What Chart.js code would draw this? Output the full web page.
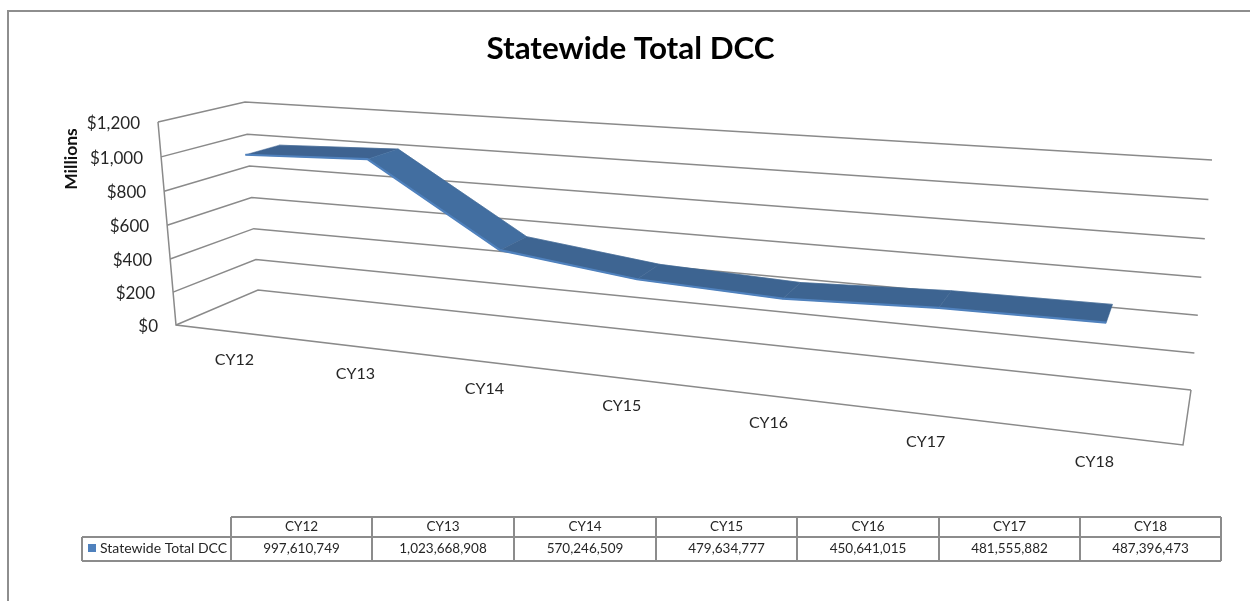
<!DOCTYPE html>
<html>
<head>
<meta charset="utf-8">
<style>html,body{margin:0;padding:0;background:#fff}canvas{display:block}</style>
<script src="https://cdn.jsdelivr.net/npm/chart.js@4/dist/chart.umd.min.js"></script>
</head>
<body>
<canvas id="c" width="1250" height="601"></canvas>
<script>
const titleText = 'Statewide Total DCC';
const axisTitle = 'Millions';
const seriesName = 'Statewide Total DCC';
const categories = ['CY12','CY13','CY14','CY15','CY16','CY17','CY18'];
const dccValues = [997610749,1023668908,570246509,479634777,450641015,481555882,487396473];
const yTickStep = 200, yMax = 1200;
const millions = dccValues.map(v => v / 1e6);

const FONT = 'Lato, Carlito, "Open Sans", sans-serif';
const GRID = '#8a8a8a';
const SHADES = ['#3e6391','#426ea0','#3e6592','#3d6491','#3d6491','#3d6491'];

// Excel-style 3D box: corners of the front and back planes (bottom-left, bottom-right, top-right, top-left)
const frontPlane = [[176,325],[1183,445],[1207,192],[158,122]];
const backPlane  = [[258,290],[1191,390],[1212,160],[245,102]];
const FRONT_DEPTH = 0.30, BACK_DEPTH = 0.71;

function homography(q){
  const [[x0,y0],[x1,y1],[x2,y2],[x3,y3]] = q;
  const dx1=x1-x2, dx2=x3-x2, sx=x0-x1+x2-x3, dy1=y1-y2, dy2=y3-y2, sy=y0-y1+y2-y3;
  const den=dx1*dy2-dx2*dy1, g=(sx*dy2-dx2*sy)/den, h=(dx1*sy-sx*dy1)/den;
  const a=x1-x0+g*x1, b=x3-x0+h*x3, d=y1-y0+g*y1, e=y3-y0+h*y3;
  return (u,v)=>{const w=g*u+h*v+1;return [(a*u+b*v+x0)/w,(d*u+e*v+y0)/w];};
}
const F = homography(frontPlane), B = homography(backPlane);
const project = (u,v,depth)=>{const f=F(u,v), b=B(u,v);return [f[0]+(b[0]-f[0])*depth,f[1]+(b[1]-f[1])*depth];};

function seg(ctx,pts,color,width){
  ctx.save();ctx.strokeStyle=color;ctx.lineWidth=width;ctx.lineJoin='miter';ctx.beginPath();
  pts.forEach((p,i)=>i?ctx.lineTo(p[0],p[1]):ctx.moveTo(p[0],p[1]));ctx.stroke();ctx.restore();
}
function text(ctx,s,x,y,font,color,align){
  ctx.font=font;ctx.fillStyle=color;ctx.textAlign=align||'center';ctx.textBaseline='middle';ctx.fillText(s,x,y);
}

const perspective = {
  id:'perspective',
  afterDatasetsUpdate(chart){
    const a=chart.chartArea;
    chart.data.datasets.forEach((ds,i)=>{
      chart.getDatasetMeta(i).data.forEach(pt=>{
        const u=(pt.x-a.left)/(a.right-a.left), v=(a.bottom-pt.y)/(a.bottom-a.top);
        const p=project(u,v,ds.depth);pt.x=p[0];pt.y=p[1];
      });
    });
  },
  beforeDatasetsDraw(chart){
    const ctx=chart.ctx, ys=chart.scales.y, xs=chart.scales.x, a=chart.chartArea;
    ctx.save();
    // gridlines on left wall and back wall, tick labels on the front axis
    ys.ticks.forEach(t=>{
      const v=(a.bottom-ys.getPixelForValue(t.value))/(a.bottom-a.top);
      const f=F(0,v);
      seg(ctx,[f,B(0,v),B(1,v)],GRID,1.5);
      text(ctx,t.label,f[0]-18,f[1]+1.5,'17px '+FONT,'#262626','right');
    });
    // axis and floor
    seg(ctx,[F(0,1),F(0,0),F(1,0),B(1,0)],GRID,1.5);
    // category labels under the front edge of the floor
    xs.ticks.forEach((t,i)=>{
      const u=(xs.getPixelForTick(i)-a.left)/(a.right-a.left);
      const p=F(u,0);
      text(ctx,categories[i],p[0]+0.5,p[1]+27.5,'16px '+FONT,'#262626');
    });
    // rotated axis title
    ctx.save();ctx.translate(71,159);ctx.rotate(-Math.PI/2);
    text(ctx,axisTitle,0,0,'bold 17.5px '+FONT,'#111');ctx.restore();
    // ribbon surface between the two edges
    const fr=chart.getDatasetMeta(0).data, bk=chart.getDatasetMeta(1).data;
    for(let i=0;i<fr.length-1;i++){
      ctx.fillStyle=SHADES[i];ctx.strokeStyle=SHADES[i];ctx.lineWidth=0.5;
      ctx.beginPath();ctx.moveTo(fr[i].x,fr[i].y);ctx.lineTo(fr[i+1].x,fr[i+1].y);
      ctx.lineTo(bk[i+1].x,bk[i+1].y);ctx.lineTo(bk[i].x,bk[i].y);ctx.closePath();ctx.fill();ctx.stroke();
    }
    ctx.restore();
  },
  afterDraw(chart){
    const ctx=chart.ctx;
    ctx.save();
    // picture frame
    ctx.fillStyle='#8e8e8e';ctx.fillRect(7,10,1243,2);ctx.fillRect(7,10,2,591);
    // data table
    const cols=[231,372,514,656,797,939,1080,1221], top=517, mid=537, bot=561, left=82;
    ctx.strokeStyle='#8c8c8c';ctx.lineWidth=2;ctx.beginPath();
    ctx.moveTo(cols[0],top);ctx.lineTo(cols[7],top);
    ctx.moveTo(left,mid);ctx.lineTo(cols[7],mid);
    ctx.moveTo(left,bot);ctx.lineTo(cols[7],bot);
    ctx.moveTo(left,mid);ctx.lineTo(left,bot);
    cols.forEach(x=>{ctx.moveTo(x,top);ctx.lineTo(x,bot);});
    ctx.stroke();
    const tf='13.5px '+FONT;
    categories.forEach((c,i)=>{
      const cx=(cols[i]+cols[i+1])/2;
      text(ctx,c,cx,527,tf,'#262626');
      text(ctx,dccValues[i].toLocaleString('en-US'),cx,548.5,tf,'#262626');
    });
    ctx.fillStyle='#4f81bd';ctx.fillRect(88,544,8,8);
    text(ctx,seriesName,100,548.5,'14px '+FONT,'#262626','left');
    ctx.restore();
  }
};

new Chart(document.getElementById('c'),{
  type:'line',
  data:{labels:categories,datasets:[
    {label:seriesName,data:millions,depth:FRONT_DEPTH,borderColor:'#4f81bd',borderWidth:2.2,pointRadius:0,tension:0,fill:false,clip:false,order:0},
    {label:seriesName+' (back edge)',data:millions,depth:BACK_DEPTH,borderColor:'#3d6491',borderWidth:0.5,pointRadius:0,tension:0,fill:false,clip:false,order:1}
  ]},
  plugins:[perspective],
  options:{
    responsive:false,animation:false,events:[],
    layout:{padding:{left:3}},
    plugins:{
      legend:{display:false},tooltip:{enabled:false},
      title:{display:true,text:titleText,fullSize:false,color:'#000',font:{family:FONT,size:31.4,weight:'bold'},padding:{top:30,bottom:10}}
    },
    scales:{
      x:{type:'category',offset:true,grid:{display:false},border:{display:false},ticks:{display:false}},
      y:{type:'linear',min:0,max:yMax,grid:{display:false},border:{display:false},
         ticks:{display:false,stepSize:yTickStep,callback:v=>'$'+v.toLocaleString('en-US')}}
    }
  }
});
</script>
</body>
</html>
